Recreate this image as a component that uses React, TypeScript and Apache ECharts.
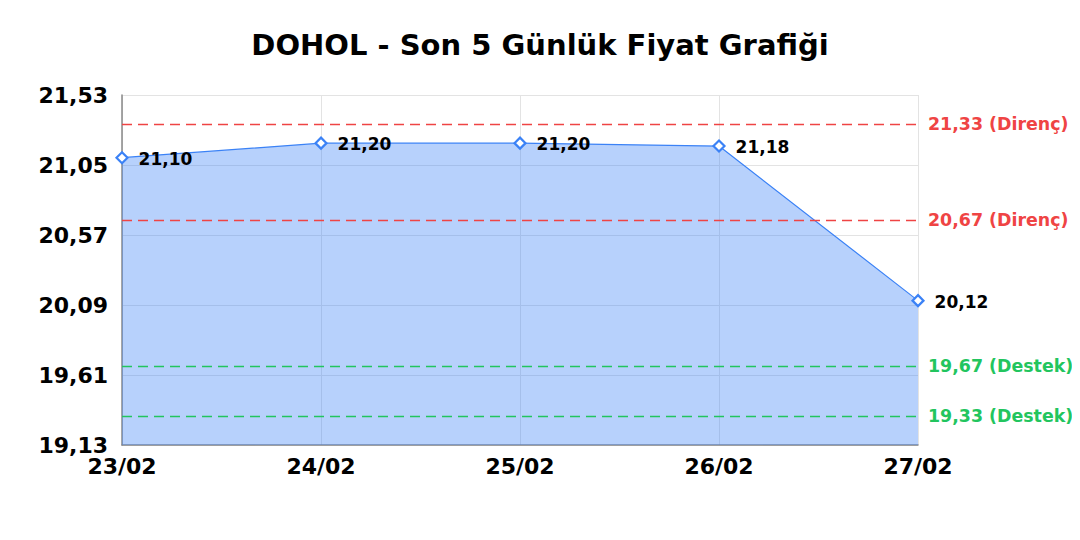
import React, { useEffect, useRef } from "react";
import * as echarts from "echarts";

const title = "DOHOL - Son 5 Günlük Fiyat Grafiği";
const dates = ["23/02", "24/02", "25/02", "26/02", "27/02"];
const prices = [21.1, 21.2, 21.2, 21.18, 20.12];
const yTicks = [19.13, 19.61, 20.09, 20.57, 21.05, 21.53];
const resistance = [21.33, 20.67];
const support = [19.67, 19.33];

const fmt = (v: number) => v.toFixed(2).replace(".", ",");
const FONT = "DejaVu Sans";

export default function App() {
  const ref = useRef<HTMLDivElement>(null);
  useEffect(() => {
    if (!ref.current) return;
    const chart = echarts.init(ref.current, undefined, { renderer: "svg" });
    const markData: any[] = [
      ...resistance.map((v) => ({
        yAxis: v,
        lineStyle: { color: "#ef4444", type: [10, 6], width: 1.3 },
        label: { formatter: `${fmt(v)} (Direnç)`, color: "#ef4444" },
      })),
      ...support.map((v) => ({
        yAxis: v,
        lineStyle: { color: "#22c55e", type: [10, 6], width: 1.3 },
        label: { formatter: `${fmt(v)} (Destek)`, color: "#22c55e" },
      })),
    ];
    chart.setOption({
      animation: false,
      textStyle: { fontFamily: FONT },
      title: {
        text: title,
        left: "center",
        top: 25,
        textStyle: { fontFamily: FONT, fontSize: 29, fontWeight: "bold", color: "#000" },
      },
      grid: { left: 122, right: 162, top: 95, bottom: 95 },
      xAxis: {
        type: "category",
        data: dates,
        boundaryGap: false,
        axisLine: { lineStyle: { color: "#888", width: 1.5 } },
        axisTick: { show: false },
        axisLabel: { fontFamily: FONT, fontSize: 22, fontWeight: "bold", color: "#000", margin: 10 },
        splitLine: { show: true, lineStyle: { color: "#e3e3e3" } },
      },
      yAxis: {
        type: "value",
        min: 19.13,
        max: 21.53,
        axisLine: { show: true, lineStyle: { color: "#888", width: 1.5 } },
        axisTick: { show: false, customValues: yTicks },
        axisLabel: {
          customValues: yTicks,
          formatter: (v: number) => fmt(v),
          fontFamily: FONT,
          fontSize: 22,
          fontWeight: "bold",
          color: "#000",
          margin: 14,
        },
        splitLine: { show: true, lineStyle: { color: "#e3e3e3" } },
      },
      series: [
        {
          type: "line",
          data: prices,
          symbol: "diamond",
          symbolSize: 11,
          itemStyle: { color: "#fff", borderColor: "#3b82f6", borderWidth: 2.2 },
          lineStyle: { color: "#3b82f6", width: 1.2 },
          areaStyle: { color: "#3b82f6", opacity: 0.37, origin: "start" },
          label: {
            show: true,
            position: "right",
            distance: 10,
            offset: [0, 1],
            formatter: (p: any) => fmt(p.value),
            fontFamily: FONT,
            fontSize: 17,
            fontWeight: "bold",
            color: "#000",
          },
          markLine: {
            silent: true,
            symbol: "none",
            label: {
              position: "end",
              distance: 10,
              fontFamily: FONT,
              fontSize: 17.4,
              fontWeight: "bold",
            },
            data: markData,
          },
        },
      ],
    });
    return () => chart.dispose();
  }, []);
  return <div ref={ref} style={{ width: 1080, height: 540, margin: -8 }} />;
}
